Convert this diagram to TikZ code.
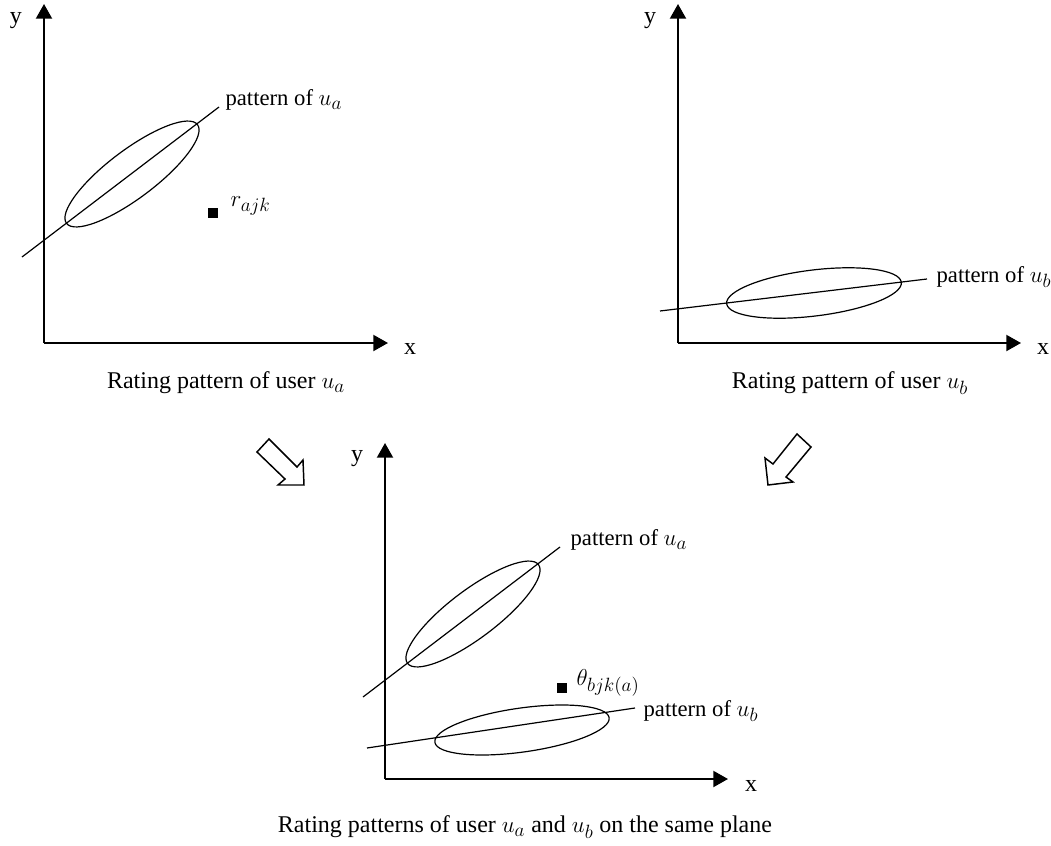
\documentclass[tikz,border=0pt]{standalone}
\usepackage{amsmath}
\usepackage{fontspec}
\setmainfont{Liberation Serif}
\DeclareMathSizes{17}{18}{14}{11}
\DeclareMathSizes{18}{19}{14.5}{11}
\usetikzlibrary{arrows.meta}

\begin{document}
\begin{tikzpicture}[x=.75pt,y=-.75pt,line width=.9pt,
  axis/.style={line width=1.5pt,-{Triangle[length=11pt,width=12pt]}},
  patline/.style={line width=.9pt},
  dot/.style={fill=black,inner sep=0pt,minimum size=7pt},
  lbl/.style={font=\fontsize{17}{20}\selectfont,inner sep=0pt},
  axlbl/.style={font=\fontsize{18}{21}\selectfont,inner sep=0pt},
  captxt/.style={font=\fontsize{18}{22}\selectfont,inner sep=0pt},
  hollow/.style={line width=1.1pt,line join=miter,fill=white}]
\useasboundingbox (0,0) rectangle (1051,846);
% user a
\coordinate (O1) at (44,343);\coordinate (Y1) at (44,4);\coordinate (X1) at (388,343);
\draw[axis] (O1)--(Y1);\draw[axis] (O1)--(X1);
\node[axlbl] (y1) at (16,21) {y};\node[axlbl] (x1) at (410,349) {x};
\coordinate (pa1s) at (22,257);\coordinate (pa1e) at (219,107);
\draw[patline] (pa1s)--(pa1e);
\draw[patline,rotate around={37:(132,174)}] (132,174) ellipse [x radius=82,y radius=24];
\node[dot] (r1) at (213,213) {};
\node[lbl,anchor=west] (rl1) at (230,206) {$r_{ajk}$};
\node[lbl,anchor=west] (pl1) at (225,100) {pattern of $u_a$};
\node[captxt] (c1) at (226,383) {Rating pattern of user $u_a$};
% user b
\coordinate (O2) at (678,343);\coordinate (Y2) at (678,4);\coordinate (X2) at (1021,343);
\draw[axis] (O2)--(Y2);\draw[axis] (O2)--(X2);
\node[axlbl] (y2) at (650,21) {y};\node[axlbl] (x2) at (1043,349) {x};
\coordinate (pb2s) at (660,311);\coordinate (pb2e) at (927,279);
\draw[patline] (pb2s)--(pb2e);
\draw[patline,rotate around={7:(814,293)}] (814,293) ellipse [x radius=88,y radius=23];
\node[lbl,anchor=west] (pl2) at (936,277) {pattern of $u_b$};
\node[captxt] (c2) at (850,383) {Rating pattern of user $u_b$};
% block arrows
\draw[hollow] (257,452)--(269,439)--(297,467)--(303,460)--(304,485)--(278,485)--(285,479)--cycle;
\draw[hollow] (797,434)--(811,447)--(786,477)--(793,482)--(768,485)--(765,458)--(773,464)--cycle;
% same plane
\coordinate (O3) at (385,779);\coordinate (Y3) at (385,443);\coordinate (X3) at (728,779);
\draw[axis] (O3)--(Y3);\draw[axis] (O3)--(X3);
\node[axlbl] (y3) at (357,459) {y};\node[axlbl] (x3) at (751,786) {x};
\coordinate (pa3s) at (363,697);\coordinate (pa3e) at (560,547);
\draw[patline] (pa3s)--(pa3e);
\draw[patline,rotate around={37:(473,614)}] (473,614) ellipse [x radius=82,y radius=24];
\node[lbl,anchor=west] (pl3a) at (570,540) {pattern of $u_a$};
\coordinate (pb3s) at (367,748);\coordinate (pb3e) at (635,708);
\draw[patline] (pb3s)--(pb3e);
\draw[patline,rotate around={8:(522,730)}] (522,730) ellipse [x radius=88,y radius=22];
\node[lbl,anchor=west] (pl3b) at (643,711) {pattern of $u_b$};
\node[dot] (t3) at (562,688) {};
\node[lbl,anchor=west] (tl3) at (576,683) {$\theta_{bjk(a)}$};
\node[captxt] (c3) at (525,827) {Rating patterns of user $u_a$ and $u_b$ on the same plane};
\end{tikzpicture}
\end{document}
